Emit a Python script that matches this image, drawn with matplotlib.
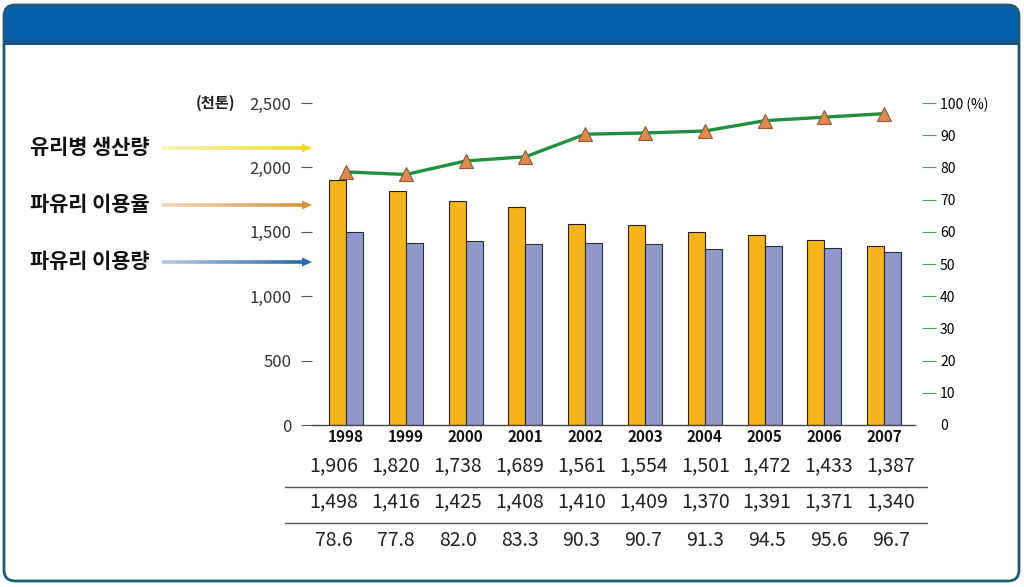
import numpy as np
import matplotlib
matplotlib.use('Agg')
import matplotlib.pyplot as plt
from matplotlib.transforms import Affine2D
from matplotlib.patches import FancyBboxPatch, Rectangle, Polygon
from matplotlib.collections import LineCollection

plt.rcParams['font.family'] = ['Noto Sans CJK KR', 'DejaVu Sans']

# 데이터
years = ['1998', '1999', '2000', '2001', '2002', '2003', '2004', '2005', '2006', '2007']
bottle_prod = [1906, 1820, 1738, 1689, 1561, 1554, 1501, 1472, 1433, 1387]   # 유리병 생산량
cullet_use = [1498, 1416, 1425, 1408, 1410, 1409, 1370, 1391, 1371, 1340]    # 파유리 이용량
cullet_rate = [78.6, 77.8, 82.0, 83.3, 90.3, 90.7, 91.3, 94.5, 95.6, 96.7]   # 파유리 이용율
left_ticks = [0, 500, 1000, 1500, 2000, 2500]
right_ticks = [0, 10, 20, 30, 40, 50, 60, 70, 80, 90, 100]

W, H = 1024, 587
fig = plt.figure(figsize=(W / 100, H / 100), dpi=100)
px = Affine2D().scale(1 / W, -1 / H).translate(0, 1) + fig.transFigure

# 틀과 머리띠
fig.add_artist(FancyBboxPatch((4, 5), 1015, 60, boxstyle='round,pad=0,rounding_size=11',
                              fc='#0563AC', ec='none', transform=px))
fig.add_artist(Rectangle((4, 45), 1015, 25, fc='white', ec='none', transform=px))
fig.add_artist(Rectangle((5, 40), 1013, 5, fc='#14548F', ec='none', transform=px))
fig.add_artist(FancyBboxPatch((4, 5), 1015, 576, boxstyle='round,pad=0,rounding_size=11',
                              fc='none', ec='#1E5B73', lw=2, transform=px))

# 막대 + 선
x = np.arange(len(years))
ax = fig.add_axes([312 / W, 1 - 425 / H, (915 - 312) / W, (425 - 103) / H])
ax.set_facecolor('none')
bw = 0.284
ax.bar(x - bw / 2, bottle_prod, bw, color='#F5B31C', edgecolor='#2A2010', lw=0.8, zorder=2)
ax.bar(x + bw / 2, cullet_use, bw, color='#8F98C8', edgecolor='#2A2A40', lw=0.8, zorder=2)
ax.set_xlim((312 - 346) / 59.8, (915 - 346) / 59.8)
ax.set_ylim(0, 2500)
ax.set_yticks(left_ticks)
ax.set_yticklabels([f'{v:,}' for v in left_ticks], fontsize=12, color='#333333')
ax.tick_params(axis='y', length=8, width=0.8, color='#555555', pad=7)
ax.set_xticks(x)
ax.set_xticklabels(years, fontsize=11, fontweight='bold', color='#111111')
ax.tick_params(axis='x', length=0, pad=3)
for s in ['left', 'right', 'top']:
    ax.spines[s].set_visible(False)
ax.spines['bottom'].set_color('#444444')
ax.spines['bottom'].set_linewidth(1.0)
ax.text(-0.16, 1.0, '(천톤)', transform=ax.transAxes, ha='center', va='center',
        fontsize=11, fontweight='bold', color='#222222')

ax2 = ax.twinx()
ax2.plot(x, cullet_rate, color='#1E9040', lw=2.4, marker='^', markersize=9.5,
         mfc='#E0894E', mec='#8A5A3A', mew=0.8, zorder=3)
ax2.set_ylim(0, 100)
ax2.set_yticks(right_ticks)
ax2.set_yticklabels([f'{v} (%)' if v == 100 else str(v) for v in right_ticks],
                    fontsize=12, color='#2E8A5A')
ax2.tick_params(axis='y', length=10, width=0.8, color='#4E9A6A', pad=3)
ax2.spines['right'].set_position(('outward', 5))
for s in ['left', 'right', 'top', 'bottom']:
    ax2.spines[s].set_visible(False)
ax2.yaxis.get_major_ticks()[0].tick2line.set_visible(False)

# 왼쪽 범례 글자와 화살표
labels = ['유리병 생산량', '파유리 이용율', '파유리 이용량']
arrow_cols = ['#EFDD25', '#D8913A', '#2C69A6']
ys = [148, 205, 262]
for lab, col, yy in zip(labels, arrow_cols, ys):
    fig.text(30 / W, 1 - yy / H, lab, ha='left', va='center', fontsize=15,
             fontweight='bold', color='#111111')
    xs = np.linspace(162, 303, 41)
    segs = [[(xs[i], yy), (xs[i + 1], yy)] for i in range(len(xs) - 1)]
    rgba = np.tile(matplotlib.colors.to_rgba(col), (len(segs), 1))
    rgba[:, 3] = np.linspace(0.35, 1, len(segs))
    fig.add_artist(LineCollection(segs, colors=rgba, lw=2.6, transform=px))
    fig.add_artist(Polygon([(302, yy - 4.5), (312, yy), (302, yy + 4.5)], closed=True,
                           fc=col, ec='none', transform=px))

# 아래 표
tab = fig.add_axes([285 / W, 1 - 560 / H, (928 - 285) / W, 115 / H])
tab.axis('off')
tab.set_xlim(-0.79, 9.6)
tab.set_ylim(115, 0)
rows = [[f'{v:,}' for v in bottle_prod], [f'{v:,}' for v in cullet_use],
        [f'{v:.1f}' for v in cullet_rate]]
for ry, row in zip([21, 57, 95], rows):
    for i, t in enumerate(row):
        tab.text(i, ry, t, ha='center', va='center', fontsize=14, color='#222222')
for ly in [42, 78]:
    tab.axhline(ly, color='#555555', lw=1)

fig.savefig('out.png', dpi=100)
